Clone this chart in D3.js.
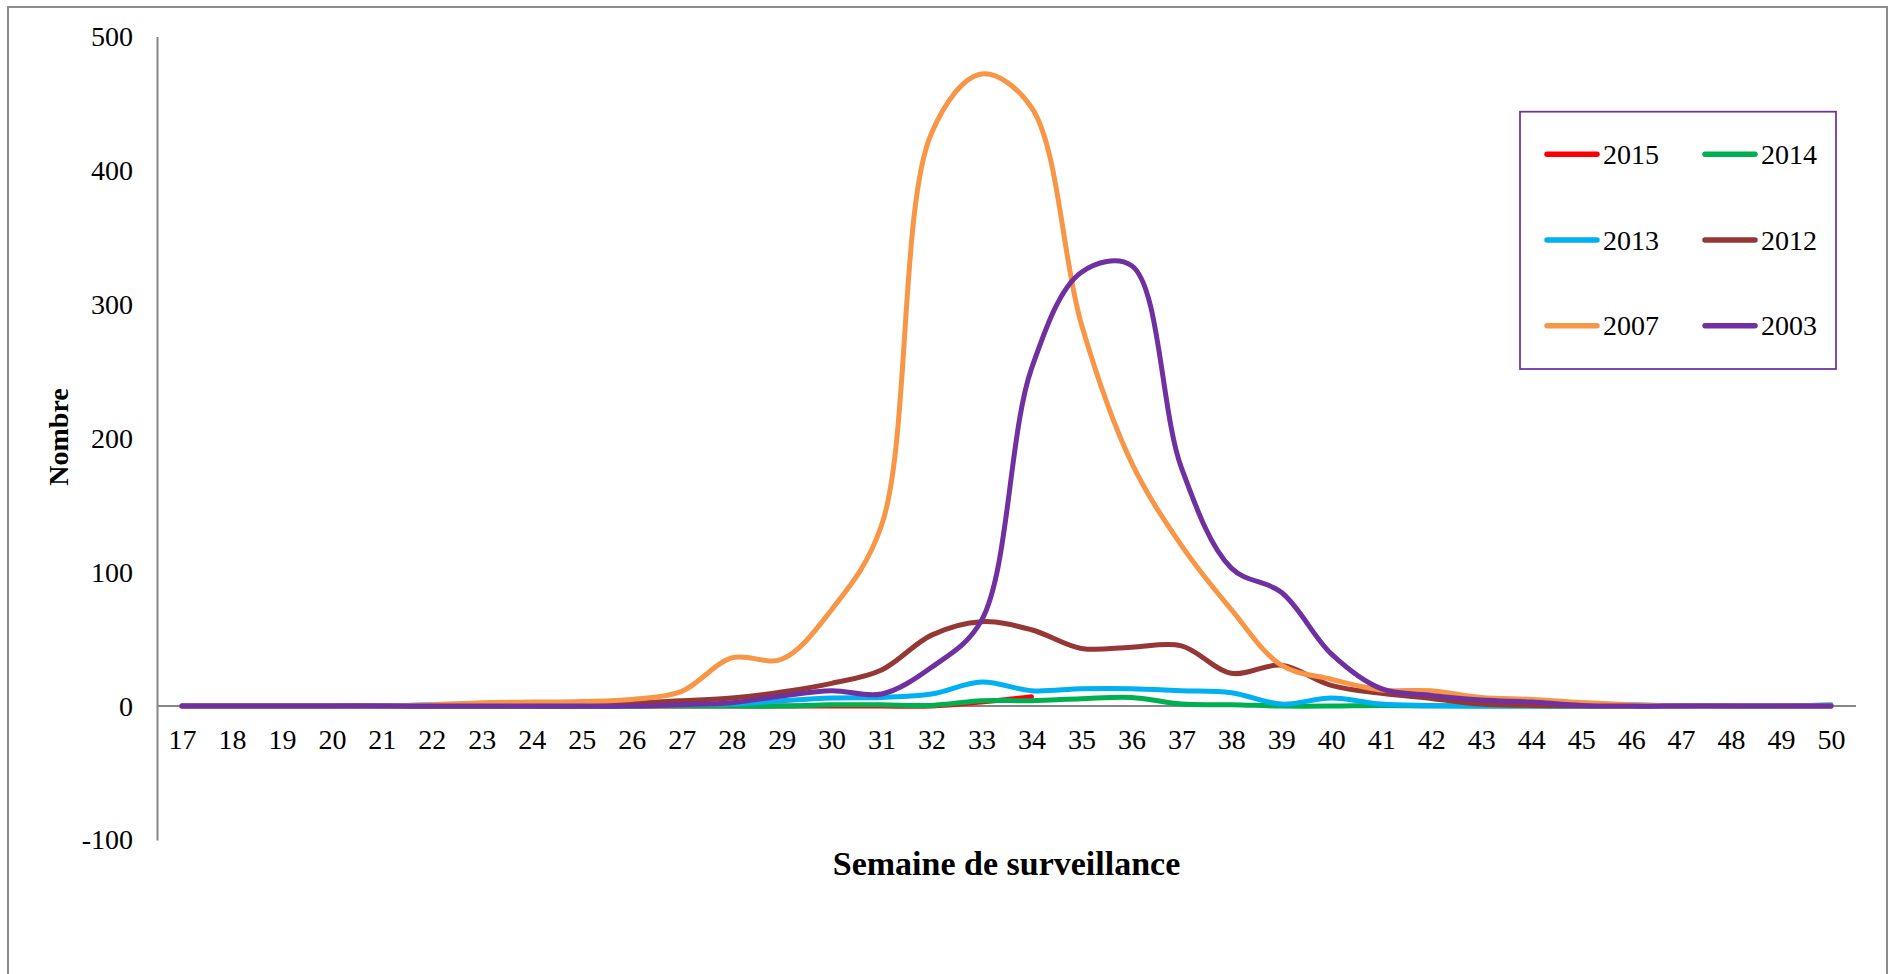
<!DOCTYPE html>
<html>
<head>
<meta charset="utf-8">
<script src="https://cdn.jsdelivr.net/npm/d3@7"></script>
<style>
html,body{margin:0;padding:0;background:#fff;}
svg{display:block;}
text{font-family:"Liberation Serif","Times New Roman",serif;fill:#000;}
</style>
</head>
<body>
<svg id="chart" width="1893" height="974"></svg>
<script>
// ---- Data ----
const weeks = ["17","18","19","20","21","22","23","24","25","26","27","28","29","30","31","32","33",
               "34","35","36","37","38","39","40","41","42","43","44","45","46","47","48","49","50"];
const yTicks = [-100, 0, 100, 200, 300, 400, 500];

const s2015 = [0,0,0,0,0,0,0,0,0,0,0,0,0,0,0,0,3,7];
const s2014 = [0,0,0,0,0,0,0,0,0,0,0,0,0, 1,1,0.5,4,4,5.5,6.5,1.5,1,0,0,0.5,0, 0,0,0,0,0,0,0,0];
const s2013 = [0,0,0,0,0, 1,0.5,0,0,0,1,1.5,4,6,6.5,9,18,11.5,13,13,11.5,10,1.5,6,1.5,0.5,0,0,0,1,0,0,0,1];
const s2012 = [0,0,0,0,0,0,0,0,0, 2,4,6,10.5,17,27,53,63,57,43,44,45,24.5,30.5,15.5,9.5,5.7,1.5,0.5,0,0,0,0,0,0];
const s2007 = [0,0,0,0,0, 1,2.5,3,3.5,5,11,36,35,72,135,428,472,447,285,182,120,72,30.5,20,12,11.4,6.5,5,2.7,1,0,0,0,0];
const s2003 = [0,0,0,0,0,0,0,0,0,0, 1,2.5,7.5,11.5,9,29,64,252,324,329,178,103,85,39,13,8,4.5,3,0.5,0,0,0,0,0];

const seriesNames  = ["2015","2014","2013","2012","2007","2003"];
const seriesValues = [s2015, s2014, s2013, s2012, s2007, s2003];
const seriesColors = ["#FF0000","#00B050","#00B0F0","#953735","#F79646","#7030A0"];

// ---- Layout ----
const svg = d3.select("#chart");
const plotLeft = 157, plotRight = 1856, plotTop = 36.5, plotBottom = 840;

// outer border
svg.append("rect").attr("x",8).attr("y",7).attr("width",1879).attr("height",1000)
   .attr("fill","none").attr("stroke","#8c8c8c").attr("stroke-width",2);

const x = d3.scalePoint().domain(weeks).range([plotLeft, plotRight]).padding(0.5);
const y = d3.scaleLinear().domain([-100, 500]).range([plotBottom, plotTop]);

// y axis
const yAxis = svg.append("g").attr("transform",`translate(${plotLeft},0)`)
  .call(d3.axisLeft(y).tickValues(yTicks).tickSize(0).tickPadding(24).tickFormat(d => String(d)));
yAxis.select(".domain").attr("stroke","#868686").attr("stroke-width",2);
yAxis.selectAll("text").style("font-family","'Liberation Serif',serif").style("font-size","28px").attr("fill","#000");

// x axis at y=0
const xAxis = svg.append("g").attr("transform",`translate(0,${y(0)})`)
  .call(d3.axisBottom(x).tickSize(0).tickSizeOuter(0).tickPadding(23));
xAxis.select(".domain").attr("stroke","#868686").attr("stroke-width",2)
  .attr("d",`M${plotLeft},0H${plotRight}`);
xAxis.selectAll("text").style("font-family","'Liberation Serif',serif").style("font-size","28px").attr("fill","#000");

// series lines
const line = d3.line()
  .x((d,i)=>x(weeks[i]))
  .y(d=>y(d))
  .curve(d3.curveCatmullRom.alpha(0.5));

seriesValues.forEach((vals,k)=>{
  svg.append("path").datum(vals)
    .attr("d", line)
    .attr("fill","none")
    .attr("stroke", seriesColors[k])
    .attr("stroke-width",5)
    .attr("stroke-linecap","round")
    .attr("stroke-linejoin","round");
});

// axis titles
svg.append("text").attr("x",(plotLeft+plotRight)/2).attr("y",875)
  .attr("text-anchor","middle").style("font-weight","bold").style("font-size","34px")
  .text("Semaine de surveillance");
svg.append("text").attr("transform","translate(68,437) rotate(-90)")
  .attr("text-anchor","middle").style("font-weight","bold").style("font-size","28px")
  .text("Nombre");

// legend
const lg = svg.append("g");
lg.append("rect").attr("x",1520).attr("y",111.7).attr("width",316).attr("height",257.3)
  .attr("fill","#fff").attr("stroke","#7030A0").attr("stroke-width",1.75);
const legCols = [1547, 1705];
const legRows = [154.3, 240, 325.7];
seriesNames.forEach((nm,k)=>{
  const cx = legCols[k%2], cy = legRows[Math.floor(k/2)];
  lg.append("line").attr("x1",cx).attr("x2",cx+50).attr("y1",cy).attr("y2",cy)
    .attr("stroke",seriesColors[k]).attr("stroke-width",5.5).attr("stroke-linecap","round");
  lg.append("text").attr("x",cx+56).attr("y",cy+9.5).style("font-size","28px").text(nm);
});
</script>
</body>
</html>
